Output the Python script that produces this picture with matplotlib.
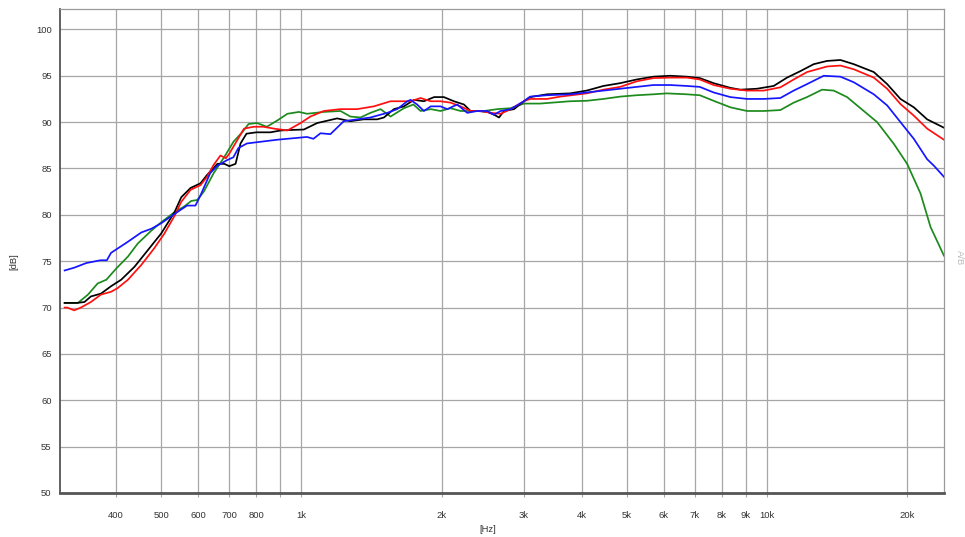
import matplotlib
matplotlib.use("Agg")
import matplotlib.pyplot as plt
from matplotlib.ticker import FixedLocator, FixedFormatter, NullLocator

plt.rcParams['font.family'] = ['Liberation Sans', 'DejaVu Sans']

# ---------------- data ----------------
black_f = [310, 330, 342, 353, 371, 390, 410, 438, 468, 500, 534, 552, 578, 607, 627, 660, 683, 700, 722, 740,
           762, 800, 858, 903, 947, 1012, 1081, 1193, 1274, 1361, 1455, 1504, 1580, 1660, 1745, 1833, 1928, 2023,
           2126, 2234, 2309, 2387, 2508, 2592, 2657, 2724, 2862, 3005, 3099, 3369, 3775, 4100, 4453, 4836, 5252,
           5704, 6194, 6727, 7172, 7680, 8340, 8764, 9517, 10336, 11042, 11796, 12600, 13460, 14380, 15360, 16960,
           18120, 19350, 20670, 22080, 23990]
black_db = [70.5, 70.5, 70.6, 71.2, 71.5, 72.3, 73.0, 74.4, 76.2, 78.0, 80.3, 81.9, 82.9, 83.4, 84.3, 85.5, 85.5,
            85.25, 85.5, 87.7, 88.75, 88.9, 88.9, 89.1, 89.15, 89.2, 89.9, 90.4, 90.1, 90.3, 90.3, 90.5, 91.4, 91.7,
            92.4, 92.25, 92.7, 92.7, 92.25, 91.9, 91.2, 91.2, 91.1, 90.8, 90.5, 91.2, 91.4, 92.25, 92.7, 93.0, 93.1,
            93.4, 93.9, 94.2, 94.6, 94.9, 95.0, 94.9, 94.75, 94.2, 93.7, 93.5, 93.6, 93.9, 94.8, 95.5, 96.25, 96.6,
            96.7, 96.25, 95.4, 94.1, 92.5, 91.6, 90.3, 89.4]

red_f = [310, 314, 325, 336, 353, 371, 390, 403, 424, 453, 483, 508, 534, 552, 578, 607, 627, 648, 670, 688, 700,
         727, 753, 790, 828, 873, 933, 996, 1045, 1117, 1213, 1317, 1431, 1554, 1633, 1716, 1802, 1896, 1990, 2091,
         2197, 2309, 2427, 2550, 2679, 2815, 3005, 3099, 3369, 3596, 4100, 4453, 4836, 5252, 5704, 6194, 6727,
         7172, 7680, 8340, 9060, 9836, 10683, 11413, 12190, 13460, 14380, 15360, 16960, 18120, 19350, 20670,
         22080, 23990]
red_db = [70.0, 70.0, 69.7, 70.0, 70.6, 71.4, 71.7, 72.1, 73.0, 74.6, 76.4, 78.0, 79.9, 81.4, 82.7, 83.2, 84.1,
          85.4, 86.4, 86.1, 86.6, 88.0, 89.3, 89.5, 89.5, 89.3, 89.1, 89.9, 90.6, 91.2, 91.4, 91.4, 91.7, 92.25,
          92.25, 92.25, 92.6, 92.25, 92.25, 92.1, 91.7, 91.2, 91.2, 91.0, 90.9, 91.4, 92.25, 92.5, 92.5, 92.75,
          93.1, 93.5, 93.8, 94.4, 94.75, 94.8, 94.8, 94.6, 94.0, 93.6, 93.4, 93.4, 93.75, 94.6, 95.4, 96.0, 96.1,
          95.7, 94.8, 93.6, 91.95, 90.7, 89.3, 88.1]

blue_f = [310, 325, 345, 370, 382, 390, 424, 453, 476, 500, 534, 568, 592, 607, 637, 660, 692, 714, 732, 764, 887,
          1028, 1061, 1099, 1154, 1193, 1233, 1317, 1407, 1479, 1529, 1606, 1688, 1716, 1772, 1833, 1896, 1990,
          2057, 2161, 2271, 2387, 2508, 2592, 2679, 2815, 3005, 3099, 3369, 3775, 4100, 4453, 4836, 5252, 5704,
          6194, 6727, 7172, 7680, 8340, 9060, 9836, 10683, 11413, 12190, 13240, 14380, 15360, 16960, 18120,
          19350, 20670, 22080, 22830, 23990]
blue_db = [74.0, 74.3, 74.8, 75.1, 75.1, 75.9, 77.1, 78.1, 78.5, 79.1, 80.1, 81.0, 81.0, 82.1, 84.5, 85.3, 85.9,
           86.2, 87.2, 87.7, 88.1, 88.4, 88.2, 88.8, 88.7, 89.4, 90.1, 90.3, 90.5, 90.8, 91.0, 91.4, 92.25, 92.4,
           91.9, 91.2, 91.7, 91.7, 91.4, 91.9, 91.0, 91.2, 91.2, 90.8, 91.2, 91.4, 92.25, 92.75, 92.9, 93.0, 93.2,
           93.4, 93.6, 93.8, 94.0, 94.0, 93.9, 93.8, 93.2, 92.7, 92.5, 92.5, 92.6, 93.4, 94.1, 95.0, 94.9, 94.3,
           93.0, 91.8, 90.0, 88.2, 86.0, 85.3, 84.1]

green_f = [310, 314, 331, 348, 365, 381, 400, 424, 445, 476, 500, 534, 560, 580, 597, 617, 648, 683, 715, 746, 770,
           803, 843, 889, 933, 988, 1028, 1117, 1213, 1274, 1339, 1407, 1479, 1554, 1660, 1740, 1803, 1896, 1990,
           2091, 2197, 2309, 2467, 2635, 2815, 3005, 3256, 3775, 4100, 4453, 4836, 5252, 5704, 6089, 6727, 7172,
           7680, 8340, 9060, 9836, 10683, 11413, 12190, 13130, 13910, 14860, 16140, 17240, 18730, 20000, 21370,
           22450, 23990]
green_db = [70.5, 70.5, 70.5, 71.4, 72.6, 73.0, 74.2, 75.5, 76.9, 78.3, 79.2, 80.3, 80.9, 81.5, 81.6, 82.5, 84.5,
            86.25, 87.9, 88.9, 89.8, 89.9, 89.5, 90.2, 90.9, 91.1, 90.9, 91.1, 91.2, 90.6, 90.5, 91.0, 91.4, 90.6,
            91.5, 91.9, 91.2, 91.4, 91.2, 91.5, 91.2, 91.2, 91.2, 91.4, 91.5, 92.0, 92.0, 92.25, 92.3, 92.5, 92.75,
            92.9, 93.0, 93.1, 93.0, 92.9, 92.3, 91.6, 91.2, 91.2, 91.3, 92.1, 92.7, 93.5, 93.4, 92.7, 91.2, 90.0,
            87.65, 85.5, 82.3, 78.7, 75.6]

x_ticks = [400, 500, 600, 700, 800, 900, 1000, 2000, 3000, 4000, 5000, 6000, 7000, 8000, 9000, 10000, 20000]
x_tick_labels = ['400', '500', '600', '700', '800', '', '1k', '2k', '3k', '4k', '5k', '6k', '7k', '8k', '9k',
                 '10k', '20k']
y_ticks = [50, 55, 60, 65, 70, 75, 80, 85, 90, 95, 100]

# ---------------- figure ----------------
W, H = 965, 537
fig = plt.figure(figsize=(W / 100, H / 100), dpi=100)
ax = fig.add_axes([60 / W, 1 - 493 / H, (944 - 60) / W, (493 - 9) / H])

ax.set_xscale('log')
ax.set_xlim(303, 24000)
ax.set_ylim(50, 102.2)

ax.xaxis.set_major_locator(FixedLocator(x_ticks))
ax.xaxis.set_major_formatter(FixedFormatter(x_tick_labels))
ax.xaxis.set_minor_locator(NullLocator())
ax.set_yticks(y_ticks)
ax.set_yticklabels([str(v) for v in y_ticks])

ax.grid(True, which='major', color='#a6a6a6', linewidth=0.9)
ax.set_axisbelow(True)

lw = 1.25
ax.plot(green_f, green_db, color='#1c8a1c', lw=lw)
ax.plot(black_f, black_db, color='#000000', lw=lw)
ax.plot(red_f, red_db, color='#ff1010', lw=lw)
ax.plot(blue_f, blue_db, color='#1515ff', lw=lw)

for s in ['top', 'right']:
    ax.spines[s].set_color('#9a9a9a')
    ax.spines[s].set_linewidth(0.9)
ax.spines['left'].set_color('#555555')
ax.spines['left'].set_linewidth(1.3)
ax.spines['bottom'].set_color('#555555')
ax.spines['bottom'].set_linewidth(2.0)

ax.tick_params(axis='y', length=0, pad=6, labelsize=6.8, labelcolor='#333333')
ax.tick_params(axis='x', length=3, width=0.8, color='#a6a6a6', pad=10, labelsize=6.8, labelcolor='#333333')

fig.text(14 / W, 1 - 262 / H, '[dB]', rotation=90, ha='center', va='center', fontsize=6.8, color='#333333')
fig.text(488 / W, 1 - 530 / H, '[Hz]', ha='center', va='center', fontsize=6.8, color='#333333')
fig.text(959 / W, 1 - 258 / H, 'A/B', rotation=270, ha='center', va='center', fontsize=6.8, color='#bbbbbb')

fig.savefig('out.png', dpi=100)
